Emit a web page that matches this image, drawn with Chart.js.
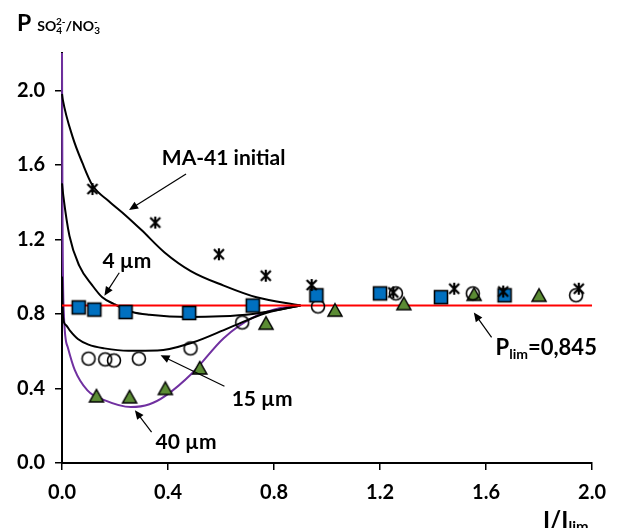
<!DOCTYPE html>
<html>
<head>
<meta charset="utf-8">
<script src="https://cdn.jsdelivr.net/npm/chart.js@4.4.1/dist/chart.umd.min.js"></script>
<style>
  html, body { margin: 0; padding: 0; background: #fff; }
  #wrap { width: 617px; height: 528px; }
</style>
</head>
<body>
<div id="wrap"><canvas id="chart" width="617" height="528"></canvas></div>
<script>
// Axis ticks
const xTicks = [0, 0.4, 0.8, 1.2, 1.6, 2.0];
const yTicks = [0, 0.4, 0.8, 1.2, 1.6, 2.0];

// Model curves
const ma41X = [0, 0.003, 0.04, 0.077, 0.115, 0.177, 0.239, 0.3, 0.387, 0.486, 0.61, 0.734, 0.9];
const ma41Y = [1.98, 1.95, 1.75, 1.61, 1.49, 1.405, 1.33, 1.25, 1.13, 1.03, 0.952, 0.889, 0.845];

const um4X = [0, 0.005, 0.028, 0.065, 0.115, 0.152, 0.195, 0.265, 0.33, 0.48, 0.6, 0.72, 0.8, 0.9];
const um4Y = [1.5, 1.433, 1.219, 1.059, 0.952, 0.889, 0.854, 0.81, 0.795, 0.783, 0.787, 0.8, 0.818, 0.845];

const um15X = [0, 0.004, 0.015, 0.03, 0.06, 0.1, 0.16, 0.25, 0.36, 0.49, 0.63, 0.77, 0.9];
const um15Y = [1.0, 0.78, 0.74, 0.71, 0.665, 0.635, 0.615, 0.602, 0.603, 0.645, 0.725, 0.805, 0.845];

const um40X = [0, 0.002, 0.007, 0.022, 0.048, 0.096, 0.16, 0.26, 0.33, 0.39, 0.49, 0.61, 0.72, 0.82, 0.9];
const um40Y = [2.2, 1.3, 0.8, 0.62, 0.5, 0.39, 0.337, 0.3, 0.315, 0.36, 0.48, 0.67, 0.78, 0.83, 0.845];

const limX = [0, 2.0];
const limY = [0.845, 0.845];

// Measured points
const starX = [0.115, 0.352, 0.592, 0.769, 0.942, 1.25, 1.48, 1.665, 1.95];
const starY = [1.47, 1.29, 1.12, 1.005, 0.955, 0.915, 0.935, 0.92, 0.935];

const squareX = [0.063, 0.122, 0.24, 0.48, 0.72, 0.96, 1.2, 1.43, 1.67];
const squareY = [0.835, 0.823, 0.81, 0.805, 0.845, 0.9, 0.91, 0.89, 0.9];

const circleX = [0.1, 0.163, 0.196, 0.29, 0.485, 0.68, 0.966, 1.26, 1.55, 1.94];
const circleY = [0.56, 0.556, 0.55, 0.56, 0.615, 0.754, 0.84, 0.91, 0.91, 0.9];

const triX = [0.13, 0.255, 0.39, 0.52, 0.77, 1.03, 1.29, 1.555, 1.8];
const triY = [0.36, 0.355, 0.4, 0.51, 0.75, 0.82, 0.855, 0.905, 0.9];

const FONT = "Lato";

function pts(xs, ys) {
  return xs.map((x, i) => ({ x: x, y: ys[i] }));
}

// Marker images
function makeMarker(kind) {
  const c = document.createElement("canvas");
  c.width = 18;
  c.height = 18;
  const g = c.getContext("2d");
  g.translate(9, 9);
  g.strokeStyle = "#000";
  if (kind === "square") {
    g.fillStyle = "#0070c0";
    g.lineWidth = 1.6;
    g.fillRect(-6.5, -6.5, 13, 13);
    g.strokeRect(-6.5, -6.5, 13, 13);
  } else if (kind === "circle") {
    g.lineWidth = 1.6;
    g.beginPath();
    g.arc(0, 0, 6.5, 0, Math.PI * 2);
    g.stroke();
  } else if (kind === "triangle") {
    g.fillStyle = "#5b8c34";
    g.lineWidth = 1.5;
    g.beginPath();
    g.moveTo(0, -6.5);
    g.lineTo(7, 6);
    g.lineTo(-7, 6);
    g.closePath();
    g.fill();
    g.stroke();
  } else {
    g.lineWidth = 2.2;
    g.beginPath();
    g.moveTo(-5, -5); g.lineTo(5, 5);
    g.moveTo(-5, 5); g.lineTo(5, -5);
    g.moveTo(0, -6); g.lineTo(0, 6);
    g.stroke();
  }
  return c;
}

// Text labels with arrows (data coordinates)
const notes = [
  { text: "MA-41 initial", x: 0.61, y: 1.636, from: [0.468, 1.551], to: [0.253, 1.358] },
  { text: "4 µm", x: 0.245, y: 1.08, from: [0.216, 1.021], to: [0.16, 0.898] },
  { text: "15 µm", x: 0.755, y: 0.342, from: [0.613, 0.412], to: [0.372, 0.578] },
  { text: "40 µm", x: 0.468, y: 0.112, from: [0.338, 0.166], to: [0.275, 0.283] },
];

function drawArrow(ctx, x1, y1, x2, y2) {
  const ang = Math.atan2(y2 - y1, x2 - x1);
  const len = 9;
  ctx.beginPath();
  ctx.moveTo(x1, y1);
  ctx.lineTo(x2 - Math.cos(ang) * len * 0.8, y2 - Math.sin(ang) * len * 0.8);
  ctx.stroke();
  ctx.beginPath();
  ctx.moveTo(x2, y2);
  ctx.lineTo(x2 - len * Math.cos(ang) + 4 * Math.sin(ang), y2 - len * Math.sin(ang) - 4 * Math.cos(ang));
  ctx.lineTo(x2 - len * Math.cos(ang) - 4 * Math.sin(ang), y2 - len * Math.sin(ang) + 4 * Math.cos(ang));
  ctx.closePath();
  ctx.fill();
}

// Draw a run of text pieces: [text, size, dy, extra gap]
function drawRuns(ctx, x, y, runs) {
  ctx.textAlign = "left";
  ctx.textBaseline = "alphabetic";
  runs.forEach((r) => {
    ctx.font = "bold " + r[1] + "px " + FONT;
    ctx.fillText(r[0], x, y + r[2]);
    x += ctx.measureText(r[0]).width + (r[3] || 0);
  });
}

const notesPlugin = {
  id: "notes",
  afterDraw(chart) {
    const ctx = chart.ctx;
    const xs = chart.scales.x;
    const ys = chart.scales.y;
    ctx.save();
    ctx.fillStyle = "#000";
    ctx.strokeStyle = "#000";
    ctx.lineWidth = 1.2;

    notes.forEach((n) => {
      ctx.font = "bold 21px " + FONT;
      ctx.textAlign = "center";
      ctx.textBaseline = "middle";
      ctx.fillText(n.text, xs.getPixelForValue(n.x), ys.getPixelForValue(n.y));
      drawArrow(ctx,
        xs.getPixelForValue(n.from[0]), ys.getPixelForValue(n.from[1]),
        xs.getPixelForValue(n.to[0]), ys.getPixelForValue(n.to[1]));
    });

    // P_lim label
    drawArrow(ctx,
      xs.getPixelForValue(1.621), ys.getPixelForValue(0.674),
      xs.getPixelForValue(1.554), ys.getPixelForValue(0.807));
    drawRuns(ctx, xs.getPixelForValue(1.636), ys.getPixelForValue(0.578), [
      ["P", 22, 0], ["lim", 14, 4], ["=0,845", 22, 0],
    ]);

    // axis titles
    drawRuns(ctx, 17, 31, [
      ["P", 23, 0, 6], ["SO", 14, 0], ["4", 10, 3, -6], ["2-", 10, -6, 0], ["/NO", 14, 0], ["3", 10, 3, -6], ["-", 10, -6],
    ]);
    drawRuns(ctx, 543, 529, [["I/I", 24, 0], ["lim", 15, 3]]);
    ctx.restore();
  },
};

const lineStyle = {
  showLine: true,
  pointRadius: 0,
  borderWidth: 2,
  fill: false,
  cubicInterpolationMode: "monotone",
  clip: 6,
  order: 2,
};

const markerStyle = {
  showLine: false,
  pointRadius: 7,
  order: 0,
  clip: false,
};

new Chart(document.getElementById("chart"), {
  type: "scatter",
  data: {
    datasets: [
      { ...lineStyle, data: pts(ma41X, ma41Y), borderColor: "#000" },
      { ...lineStyle, data: pts(um4X, um4Y), borderColor: "#000" },
      { ...lineStyle, data: pts(um15X, um15Y), borderColor: "#000" },
      { ...lineStyle, data: pts(um40X, um40Y), borderColor: "#7030a0" },
      { ...lineStyle, data: pts(limX, limY), borderColor: "#ff0000", cubicInterpolationMode: "default", order: 1 },
      { ...markerStyle, data: pts(starX, starY), pointStyle: makeMarker("star") },
      { ...markerStyle, data: pts(squareX, squareY), pointStyle: makeMarker("square") },
      { ...markerStyle, data: pts(circleX, circleY), pointStyle: makeMarker("circle") },
      { ...markerStyle, data: pts(triX, triY), pointStyle: makeMarker("triangle") },
    ],
  },
  options: {
    responsive: false,
    animation: false,
    devicePixelRatio: 1,
    events: [],
    layout: { padding: { top: 53, right: 17, left: 0, bottom: 0 } },
    plugins: {
      legend: { display: false },
      tooltip: { enabled: false },
    },
    scales: {
      x: {
        type: "linear",
        min: 0,
        max: 2.0,
        afterBuildTicks: (s) => { s.ticks = xTicks.map((v) => ({ value: v })); },
        afterFit: (s) => { s.height = 65; },
        ticks: {
          color: "#000",
          padding: 11,
          font: { family: FONT, size: 20, weight: "bold" },
          callback: (v) => Number(v).toFixed(1),
        },
        grid: { drawOnChartArea: false, color: "#000", lineWidth: 1.5, tickLength: 7 },
        border: { color: "#000", width: 2 },
      },
      y: {
        type: "linear",
        min: 0,
        max: 2.2,
        afterBuildTicks: (s) => { s.ticks = yTicks.map((v) => ({ value: v })); },
        afterFit: (s) => { s.width = 62; },
        ticks: {
          color: "#000",
          padding: 10,
          font: { family: FONT, size: 20, weight: "bold" },
          callback: (v) => Number(v).toFixed(1),
        },
        grid: { drawOnChartArea: false, color: "#000", lineWidth: 1.5, tickLength: 7 },
        border: { color: "#000", width: 2 },
      },
    },
  },
  plugins: [notesPlugin],
});
</script>
</body>
</html>
